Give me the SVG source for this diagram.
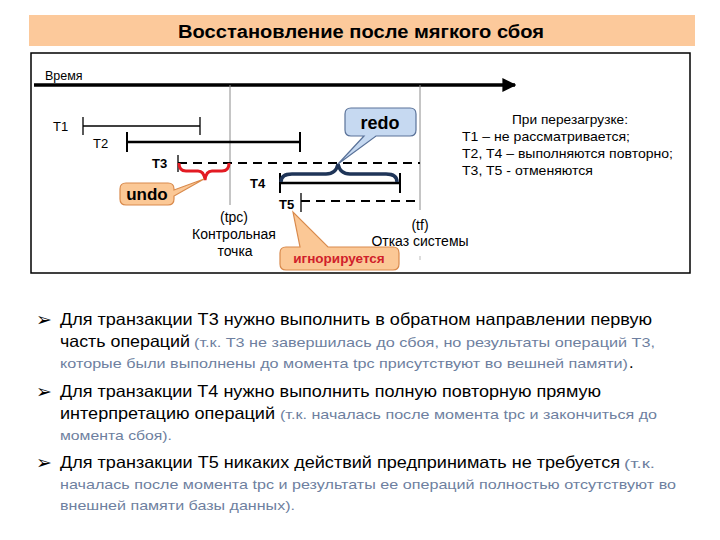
<svg xmlns="http://www.w3.org/2000/svg" width="720" height="540" viewBox="0 0 720 540">
<style>
.t{font-family:"Liberation Sans",Arial,sans-serif;fill:#000}
.lbl{font-size:13px}
.b{font-weight:bold}
.big{font-size:16.5px}
.g{font-size:13px;fill:#6E7FA0}
.bul{font-family:"DejaVu Sans",sans-serif;font-size:19px;fill:#000}
.callout-o{fill:#FBC896;stroke:#D98A4C;stroke-width:1.2}
.callout-b{fill:#C6D9F1;stroke:#5A7299;stroke-width:1.2}
.vline{stroke:#8C8C8C;stroke-width:1}
</style>
<defs>
<marker id="arr" viewBox="0 0 10 10" refX="9" refY="5" markerWidth="4" markerHeight="4" orient="auto" markerUnits="strokeWidth"><path d="M0,0 L10,5 L0,10 z" fill="#000"/></marker>
</defs>
<rect width="720" height="540" fill="#fff"/>
<g id="title">
<rect x="29" y="15" width="666" height="31" fill="#FCC99B"/>
<text class="t b" x="361" y="38" font-size="17.5" text-anchor="middle" textLength="366" lengthAdjust="spacingAndGlyphs">Восстановление после мягкого сбоя</text>
</g>
<rect x="31" y="53" width="659" height="220" fill="none" stroke="#000" stroke-width="1.5"/>
<g id="connectors">
<line x1="34" y1="85" x2="515" y2="85" stroke="#000" stroke-width="3.5" marker-end="url(#arr)"/>
<line class="vline" x1="230" y1="85" x2="230" y2="205"/>
<line class="vline" x1="420" y1="85" x2="420" y2="210"/>
<line x1="420" y1="256" x2="420" y2="260" stroke="#bbb" stroke-width="1"/>
<!-- T1 -->
<line x1="83" y1="126" x2="200" y2="126" stroke="#000" stroke-width="1.3"/>
<line x1="83" y1="117" x2="83" y2="135" stroke="#000" stroke-width="1.3"/>
<line x1="200" y1="117" x2="200" y2="135" stroke="#000" stroke-width="1.3"/>
<!-- T2 -->
<line x1="127" y1="142" x2="300" y2="142" stroke="#000" stroke-width="2.5"/>
<line x1="127" y1="132" x2="127" y2="152" stroke="#000" stroke-width="2"/>
<line x1="300" y1="132" x2="300" y2="152" stroke="#000" stroke-width="2"/>
<!-- T3 -->
<line x1="178" y1="163" x2="420" y2="163" stroke="#000" stroke-width="2" stroke-dasharray="9,6"/>
<line x1="178" y1="155" x2="178" y2="172" stroke="#000" stroke-width="1.3"/>
<!-- T4 -->
<line x1="280" y1="183" x2="400" y2="183" stroke="#000" stroke-width="2.5"/>
<line x1="280" y1="173" x2="280" y2="193" stroke="#000" stroke-width="2"/>
<line x1="400" y1="173" x2="400" y2="193" stroke="#000" stroke-width="2"/>
<!-- T5 -->
<line x1="301" y1="201" x2="420" y2="201" stroke="#000" stroke-width="2" stroke-dasharray="9,6"/>
<line x1="301" y1="193" x2="301" y2="212" stroke="#000" stroke-width="1.3"/>
<!-- braces -->
<path d="M179,163 Q179,171 186,171 L198,171 Q204,171 205,180 Q206,171 212,171 L222,171 Q229,171 229,163" fill="none" stroke="#E31B23" stroke-width="3"/>
<path d="M281,182 Q281,174 292,174 L326,174 Q336,174 338,164 Q340,174 350,174 L386,174 Q397,174 397,182" fill="none" stroke="#1F3558" stroke-width="3.5"/>
</g>
<g class="t lbl">
<text x="45" y="80" font-size="12.5">Время</text>
<text x="53" y="131">T1</text>
<text x="93" y="148">T2</text>
<text class="b" x="152" y="168" font-size="13">T3</text>
<text class="b" x="250" y="188" font-size="13">T4</text>
<text class="b" x="279" y="209" font-size="13">T5</text>
<text x="234" y="222" text-anchor="middle" font-size="14">(tpc)</text>
<text x="234" y="239" text-anchor="middle" font-size="14">Контрольная</text>
<text x="235" y="256" text-anchor="middle" font-size="14">точка</text>
<text x="420" y="230" text-anchor="middle" font-size="14">(tf)</text>
<text x="420" y="246" text-anchor="middle" font-size="14">Отказ системы</text>
</g>
<g id="undo">
<path class="callout-o" d="M126,183 L168,183 Q174,183 174,189 L174,190 L204,179 L174,196 L174,199 Q174,205 168,205 L126,205 Q120,205 120,199 L120,189 Q120,183 126,183 z"/>
<text class="t b" x="147" y="200" font-size="17" text-anchor="middle">undo</text>
</g>
<g id="redo">
<path class="callout-b" d="M351,108 L410,108 Q416,108 416,114 L416,130 Q416,136 410,136 L376,136 L338,164 L364,136 L351,136 Q345,136 345,130 L345,114 Q345,108 351,108 z"/>
<text class="t b" x="380" y="129" font-size="18" text-anchor="middle">redo</text>
</g>
<g id="ignored">
<path class="callout-o" d="M286,247 L300,247 L293,212 L328,247 L393,247 Q399,247 399,253 L399,264 Q399,270 393,270 L286,270 Q280,270 280,264 L280,253 Q280,247 286,247 z"/>
<text class="t b" x="339" y="263" font-size="13.5" style="fill:#D0202A" text-anchor="middle">игнорируется</text>
</g>
<g id="note" class="t" font-size="13.5">
<text x="512" y="124" textLength="116" lengthAdjust="spacingAndGlyphs">При перезагрузке:</text>
<text x="462" y="141" textLength="168" lengthAdjust="spacingAndGlyphs">T1 – не рассматривается;</text>
<text x="462" y="158" textLength="211" lengthAdjust="spacingAndGlyphs">T2, T4 – выполняются повторно;</text>
<text x="462" y="175" textLength="131" lengthAdjust="spacingAndGlyphs">T3, T5 - отменяются</text>
</g>
<g id="bullets">
<text class="bul" x="36" y="326">➢</text>
<text class="t big" x="60" y="325" textLength="592" lengthAdjust="spacingAndGlyphs">Для транзакции Т3 нужно выполнить в обратном направлении первую</text>
<text class="t big" x="60" y="347" textLength="130" lengthAdjust="spacingAndGlyphs">часть операций</text>
<text class="t g" x="194" y="347" textLength="461" lengthAdjust="spacingAndGlyphs">(т.к. Т3 не завершилась до сбоя, но результаты операций Т3,</text>
<text class="t g" x="60" y="368" textLength="568" lengthAdjust="spacingAndGlyphs">которые были выполнены до момента tpc присутствуют во вешней памяти)</text>
<text class="t big" x="629" y="368">.</text>
<text class="bul" x="36" y="398">➢</text>
<text class="t big" x="60" y="397" textLength="541" lengthAdjust="spacingAndGlyphs">Для транзакции Т4 нужно выполнить полную повторную прямую</text>
<text class="t big" x="60" y="419" textLength="215" lengthAdjust="spacingAndGlyphs">интерпретацию операций</text>
<text class="t g" x="280" y="419" textLength="377" lengthAdjust="spacingAndGlyphs">(т.к. началась после момента tpc и закончиться до</text>
<text class="t g" x="60" y="440" textLength="112" lengthAdjust="spacingAndGlyphs">момента сбоя).</text>
<text class="bul" x="36" y="469">➢</text>
<text class="t big" x="60" y="468" textLength="560" lengthAdjust="spacingAndGlyphs">Для транзакции Т5 никаких действий предпринимать не требуется</text>
<text class="t g" x="624" y="468" textLength="31" lengthAdjust="spacingAndGlyphs">(т.к.</text>
<text class="t g" x="60" y="489" textLength="616" lengthAdjust="spacingAndGlyphs">началась после момента tpc и результаты ее операций полностью отсутствуют во</text>
<text class="t g" x="60" y="510" textLength="235" lengthAdjust="spacingAndGlyphs">внешней памяти базы данных).</text>
</g>
</svg>
